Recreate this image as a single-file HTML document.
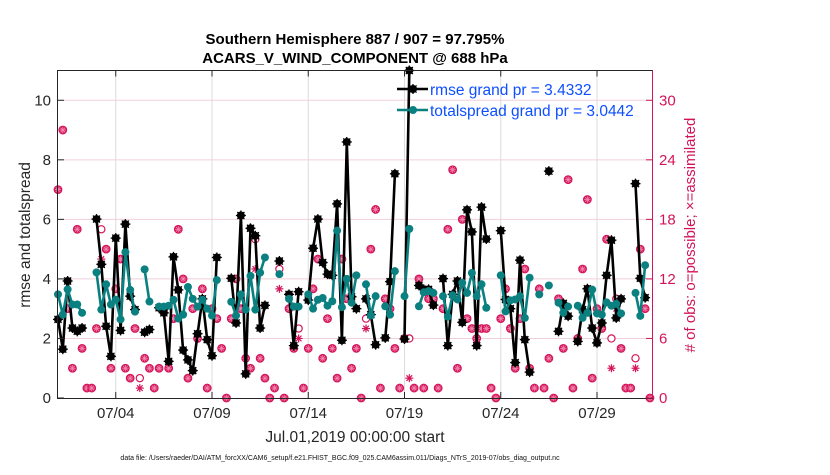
<!DOCTYPE html>
<html><head><meta charset="utf-8">
<style>
body{margin:0;background:#fff;width:830px;height:470px;overflow:hidden;font-family:"Liberation Sans",Arial,sans-serif}
svg text{font-family:"Liberation Sans",Arial,sans-serif}
</style></head>
<body>
<svg id="chart" width="830" height="470" viewBox="0 0 830 470" xmlns="http://www.w3.org/2000/svg">
<text x="355" y="44" text-anchor="middle" font-size="15" font-weight="bold">Southern Hemisphere 887 / 907 = 97.795%</text>
<text x="355" y="63" text-anchor="middle" font-size="15" font-weight="bold">ACARS_V_WIND_COMPONENT @ 688 hPa</text>
<g id="grid"></g>
<g id="obs"></g>
<g id="series"></g>
<rect x="57.5" y="70.5" width="595" height="328" fill="none" stroke="#262626" stroke-width="1"/>
<g id="axes"></g>
<text x="355" y="442" text-anchor="middle" font-size="15.5" fill="#262626">Jul.01,2019 00:00:00 start</text>
<text transform="translate(30,235) rotate(-90)" text-anchor="middle" font-size="15.5" fill="#262626">rmse and totalspread</text>
<text transform="translate(695,235) rotate(-90)" text-anchor="middle" font-size="15" fill="#d4145a"># of obs: o=possible; ×=assimilated</text>
<text x="340" y="460" text-anchor="middle" font-size="7" fill="#111">data file: /Users/raeder/DAI/ATM_forcXX/CAM6_setup/f.e21.FHIST_BGC.f09_025.CAM6assim.011/Diags_NTrS_2019-07/obs_diag_output.nc</text>
<g id="legend"></g>
</svg>
<script>
const N = 124;
const rmse = [2.64,1.64,3.93,2.35,2.24,2.35,null,null,6.01,4.49,2.41,1.40,5.37,2.27,5.84,3.42,2.97,null,2.21,2.30,null,3.03,2.86,1.23,4.74,3.63,1.61,1.28,0.92,2.16,3.33,1.96,1.42,4.72,null,null,4.02,2.52,6.13,0.81,5.70,5.45,2.35,3.11,null,null,4.60,null,3.48,1.76,3.57,null,3.29,5.03,6.01,4.55,4.16,4.12,6.52,1.94,8.60,3.4,3.0,null,3.33,2.80,1.79,null,2.02,3.91,7.53,null,1.98,11.0,null,3.78,3.65,3.65,3.12,null,4.01,1.76,3.48,3.93,2.54,6.32,5.58,1.76,6.41,5.34,null,null,5.62,3.31,3.0,1.19,4.63,1.96,0.87,null,null,null,7.62,null,2.24,3.18,2.75,null,1.90,2.97,3.67,2.35,1.85,2.52,4.12,5.30,2.69,3.33,null,null,7.20,4.02,3.37,null];
const spread = [3.48,2.80,3.65,3.14,3.14,2.86,null,null,4.22,2.97,3.82,3.14,3.30,2.64,4.90,3.63,2.90,null,4.32,3.24,null,3.07,3.07,3.10,3.30,2.67,2.80,3.73,3.33,3.07,3.30,3.00,2.77,3.96,null,null,3.23,2.77,3.48,2.97,4.10,2.97,4.21,4.72,null,null,4.16,null,3.33,3.07,3.07,null,3.48,3.00,3.30,3.36,3.10,3.25,5.62,3.05,4.00,3.20,4.12,null,3.82,2.77,3.42,null,3.08,2.80,4.26,null,3.42,5.68,null,3.08,3.55,3.59,3.53,null,3.42,2.73,3.45,3.31,3.87,3.53,4.20,3.42,3.82,3.03,null,null,4.12,2.91,3.28,3.31,3.42,2.69,4.04,null,3.48,null,3.78,null,3.20,2.86,3.07,null,3.10,2.69,2.86,3.64,2.84,2.80,3.21,3.10,3.16,2.84,null,null,3.53,2.76,4.46,null];
const possible = [21,27,9,3,17,5,1,1,7,17,15,3,11,14,3,2,7,2,4,3,1,3,9,3,8,17,12,2,9,6,11,1,9,8,5,0,8,12,9,4,3,16,4,2,0,1,13,0,9,5,7,1,5,11,14,4,8,5,2,14,10,3,5,0,8,15,19,1,10,9,5,1,6,6,1,12,1,10,10,1,9,17,23,3,18,8,7,6,7,7,1,0,8,11,7,3,8,13,3,1,11,1,4,0,10,5,22,1,6,13,20,2,9,7,16,6,10,5,1,1,4,15,9,0];
const assimilated = [21,27,9,3,17,5,1,1,7,14,15,3,11,14,3,2,7,1,4,3,1,3,9,3,8,17,12,2,9,6,11,1,9,8,5,0,8,12,9,4,3,13,4,2,0,1,11,0,9,5,6,1,5,11,14,4,8,5,2,14,10,3,5,0,7,15,19,1,10,9,5,1,6,2,1,12,1,10,10,1,9,17,23,3,18,8,7,6,7,7,1,0,8,11,7,3,8,13,3,1,11,1,4,0,10,5,22,1,6,13,20,2,9,7,16,3,9,5,1,1,3,15,9,0];
const leftTicks = [0,2,4,6,8,10];
const rightTicks = [0,6,12,18,24,30];
const dateTicks = ["07/04","07/09","07/14","07/19","07/24","07/29"];
const dateTickIdx = [12,32,52,72,92,112];

const X0=58, DX=19.25/4, YB=398, YT=70.5;
const LMAX=11, RMAX=33;
const xs = i => X0 + i*DX;
const yl = v => YB - v*(YB-YT)/LMAX;
const yr = c => YB - c*(YB-YT)/RMAX;
const NS="http://www.w3.org/2000/svg";
function mk(tag, attrs, parent){const e=document.createElementNS(NS,tag);for(const k in attrs)e.setAttribute(k,attrs[k]);parent.appendChild(e);return e;}
const grid=document.getElementById('grid'), axes=document.getElementById('axes'), obs=document.getElementById('obs'), series=document.getElementById('series'), legend=document.getElementById('legend');
const MAG="#d4145a", TEAL="#0b8080";

dateTicks.forEach((t,k)=>{
  const x=xs(dateTickIdx[k]);
  const g=mk('line',{x1:x,x2:x,y1:YT,y2:YB,stroke:'#dcdcdc','stroke-width':1},grid);
  
  
  const tk=mk('line',{x1:x,x2:x,y1:YB,y2:YB-6,stroke:'#262626'},axes);
  
  
  const tk2=mk('line',{x1:x,x2:x,y1:YT,y2:YT+6,stroke:'#262626'},axes);
  
  
  const tx=mk('text',{x:x,y:418,'text-anchor':'middle','font-size':15,fill:'#262626'},axes);
  tx.textContent=t;
  
  
});
rightTicks.forEach(c=>{
  const y=yr(c);
  if(c>0){const g=mk('line',{x1:57.5,x2:652.5,y1:y,y2:y,stroke:'#f0cfdc','stroke-width':1},grid);
  
  }
  const tk=mk('line',{x1:652.5,x2:646,y1:y,y2:y,stroke:MAG},axes);
  
  
  const tx=mk('text',{x:659,y:y+5,'font-size':15,fill:MAG},axes);
  tx.textContent=c;
  
  
});
mk('line',{x1:652.5,x2:652.5,y1:YT,y2:YB,stroke:MAG},axes);
leftTicks.forEach(v=>{
  const y=yl(v);
  const tk=mk('line',{x1:57.5,x2:64,y1:y,y2:y,stroke:'#262626'},axes);
  
  
  const tx=mk('text',{x:51,y:y+5,'text-anchor':'end','font-size':15,fill:'#262626'},axes);
  tx.textContent=v;
  
  
});

function star(x,y,r,col,parent,w){
  for(let a=0;a<4;a++){const t=a*Math.PI/4;
    mk('line',{x1:x-r*Math.cos(t),y1:y-r*Math.sin(t),x2:x+r*Math.cos(t),y2:y+r*Math.sin(t),stroke:col,'stroke-width':w},parent);}
}
for(let i=0;i<N;i++){
  const p=possible[i], a=assimilated[i];
  if(p==null) continue;
  const x=xs(i);
  if(p===a){
    const c=mk('circle',{cx:x,cy:yr(p),r:3.9,fill:'#d81b60',stroke:MAG,'stroke-width':1},obs);
    
    
    star(x,yr(p),3.2,'#f08aae',obs,0.8);
  } else {
    const c=mk('circle',{cx:x,cy:yr(p),r:3.6,fill:'#fff',stroke:MAG,'stroke-width':1.2},obs);
    
    
    const g=mk('g',{},obs);
    
    
    star(x,yr(a),4,MAG,g,1.2);
  }
}
function drawSeries(arr,col,name,marker){
  let d='';let pen=false;
  for(let i=0;i<N;i++){
    if(arr[i]==null){pen=false;continue;}
    d+=(pen?'L':'M')+xs(i).toFixed(1)+' '+yl(arr[i]).toFixed(1);pen=true;
  }
  const p=mk('path',{d:d,fill:'none',stroke:col,'stroke-width':2.6,'stroke-linejoin':'round'},series);
  
  
  for(let i=0;i<N;i++){
    if(arr[i]==null) continue;
    const c=mk('circle',{cx:xs(i),cy:yl(arr[i]),r:4,fill:col},series);
    
    
    if(marker) star(xs(i),yl(arr[i]),5,col,series,1.3);
  }
}
drawSeries(rmse,'#000','rmse',true);
drawSeries(spread,TEAL,'totalspread',false);

mk('line',{x1:397,x2:428,y1:89,y2:89,stroke:'#000','stroke-width':2.6},legend);
mk('circle',{cx:413,cy:89,r:4,fill:'#000'},legend);
star(413,89,5,'#000',legend,1.3);
mk('line',{x1:397,x2:428,y1:110,y2:110,stroke:TEAL,'stroke-width':2.6},legend);
mk('circle',{cx:413,cy:110,r:4,fill:TEAL},legend);
const l1=mk('text',{x:430,y:95,'font-size':15.5,fill:'#0d4fff'},legend);
l1.textContent='rmse grand pr = 3.4332';


const l2=mk('text',{x:430,y:116,'font-size':15.5,fill:'#0d4fff'},legend);
l2.textContent='totalspread grand pr = 3.0442';


</script>
</body></html>
